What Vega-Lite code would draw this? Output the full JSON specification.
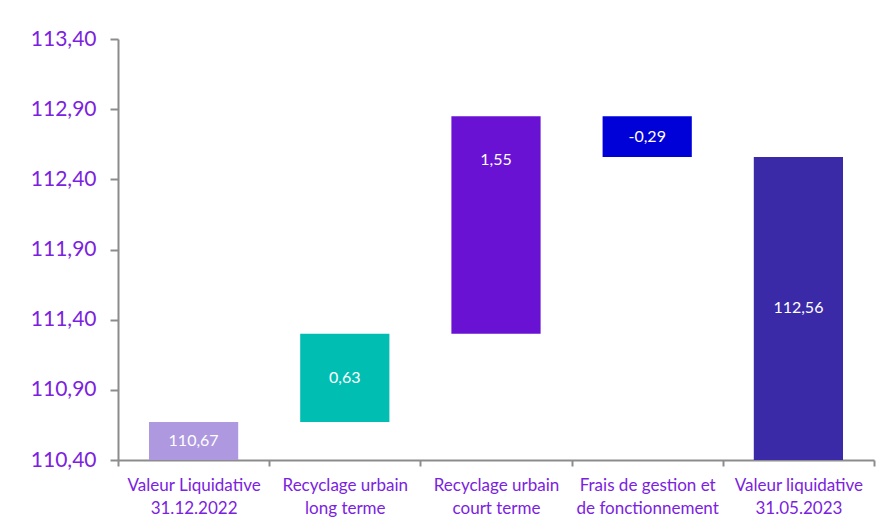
{
  "$schema": "https://vega.github.io/schema/vega-lite/v6.json",
  "autosize": "none",
  "width": 756,
  "height": 421,
  "padding": {"left": 118, "top": 39, "right": 13, "bottom": 66},
  "background": "#ffffff",
  "config": {"view": {"stroke": null}, "font": "Lato"},
  "data": {
    "values": [
      {"cat": "Valeur Liquidative|31.12.2022", "start": 110.40, "end": 110.67, "label": "110,67", "labelAt": 110.535},
      {"cat": "Recyclage urbain|long terme", "start": 110.67, "end": 111.30, "label": "0,63", "labelAt": 110.985},
      {"cat": "Recyclage urbain|court terme", "start": 111.30, "end": 112.85, "label": "1,55", "labelAt": 112.54},
      {"cat": "Frais de gestion et|de fonctionnement", "start": 112.85, "end": 112.56, "label": "-0,29", "labelAt": 112.705},
      {"cat": "Valeur liquidative|31.05.2023", "start": 110.40, "end": 112.56, "label": "112,56", "labelAt": 111.48}
    ]
  },
  "encoding": {
    "x": {
      "field": "cat",
      "type": "nominal",
      "sort": null,
      "scale": {"paddingInner": 0, "paddingOuter": 0},
      "axis": {
        "title": null,
        "labelAngle": 0,
        "labelExpr": "isValid(datum.value) ? split(datum.value, '|') : ''",
        "labelFont": "Lato",
        "labelFontSize": 17,
        "labelColor": "#7B22E0",
        "labelPadding": 11,
        "labelLineHeight": 23,
        "domainColor": "#8C8C8C",
        "domainWidth": 2,
        "tickBand": "extent",
        "tickColor": "#8C8C8C",
        "tickWidth": 2,
        "tickSize": 6
      }
    }
  },
  "layer": [
    {
      "mark": {"type": "bar", "width": {"band": 0.59}},
      "encoding": {
        "y": {
          "field": "start",
          "type": "quantitative",
          "scale": {"domain": [110.4, 113.4], "zero": false, "nice": false},
          "axis": {
            "title": null,
            "values": [110.4, 110.9, 111.4, 111.9, 112.4, 112.9, 113.4],
            "labelExpr": "replace(format(datum.value, '.2f'), '.', ',')",
            "labelFont": "Lato",
            "labelFontSize": 21,
            "labelColor": "#7B22E0",
            "labelPadding": 14,
            "grid": false,
            "domainColor": "#8C8C8C",
            "domainWidth": 2,
            "tickColor": "#8C8C8C",
            "tickWidth": 2,
            "tickSize": 8
          }
        },
        "y2": {"field": "end"},
        "color": {
          "field": "cat",
          "type": "nominal",
          "sort": null,
          "scale": {"range": ["#AE98E0", "#00BFB2", "#6A12D4", "#0000D9", "#3A2AA8"]},
          "legend": null
        }
      }
    },
    {
      "mark": {"type": "text", "color": "#ffffff", "font": "Lato", "fontSize": 16, "baseline": "middle", "align": "center"},
      "encoding": {
        "y": {"field": "labelAt", "type": "quantitative"},
        "text": {"field": "label"}
      }
    }
  ]
}
